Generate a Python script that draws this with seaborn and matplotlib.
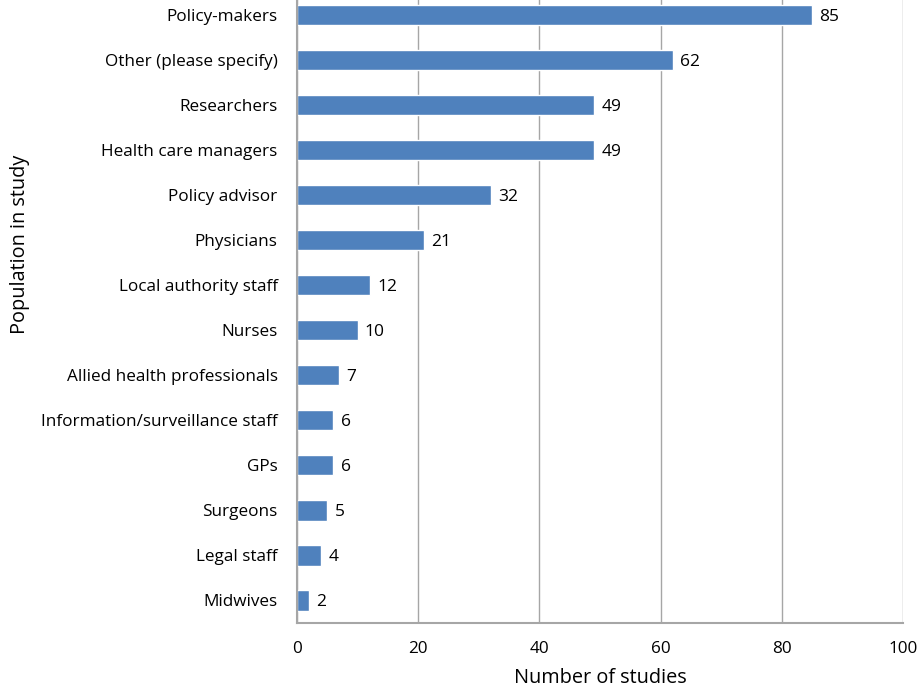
import pandas as pd
import seaborn as sns
import matplotlib.pyplot as plt

populations = ['Policy-makers', 'Other (please specify)', 'Researchers', 'Health care managers',
               'Policy advisor', 'Physicians', 'Local authority staff', 'Nurses',
               'Allied health professionals', 'Information/surveillance staff', 'GPs',
               'Surgeons', 'Legal staff', 'Midwives']
studies = [85, 62, 49, 49, 32, 21, 12, 10, 7, 6, 6, 5, 4, 2]

df = pd.DataFrame({'population': populations, 'studies': studies})

sns.set_theme(style="white")
plt.rcParams['font.family'] = ['Open Sans', 'DejaVu Sans']

fig = plt.figure(figsize=(9.21, 6.93), dpi=100)
ax = fig.add_axes([0.3225, 0.101, 0.658, 0.91])

sns.barplot(data=df, x='studies', y='population', orient='h', color='#4F81BD',
            saturation=1, width=0.45, ax=ax)

for i, v in enumerate(studies):
    ax.text(v + 1.2, i, str(v), va='center_baseline', ha='left', fontsize=12.5, color='black')

ax.set_xlim(0, 100)
ax.set_xticks(range(0, 101, 20))
ax.set_ylim(13.5, -0.5)
ax.xaxis.grid(True, color='#A6A6A6', linewidth=1)
ax.set_axisbelow(True)
ax.tick_params(axis='x', labelsize=12.3, pad=13, length=0, labelcolor='black')
ax.tick_params(axis='y', labelsize=12.3, pad=14, length=0, labelcolor='black')
for s in ['top', 'right']:
    ax.spines[s].set_visible(False)
for s in ['left', 'bottom']:
    ax.spines[s].set_color('#A6A6A6')
    ax.spines[s].set_linewidth(1.5)

ax.set_xlabel('Number of studies', fontsize=14.3, color='black')
ax.set_ylabel('Population in study', fontsize=14.3, color='black')
ax.xaxis.set_label_coords(0.5, -0.072)
ax.yaxis.set_label_coords(-0.44, 0.60)

plt.savefig('out.png', dpi=100)
